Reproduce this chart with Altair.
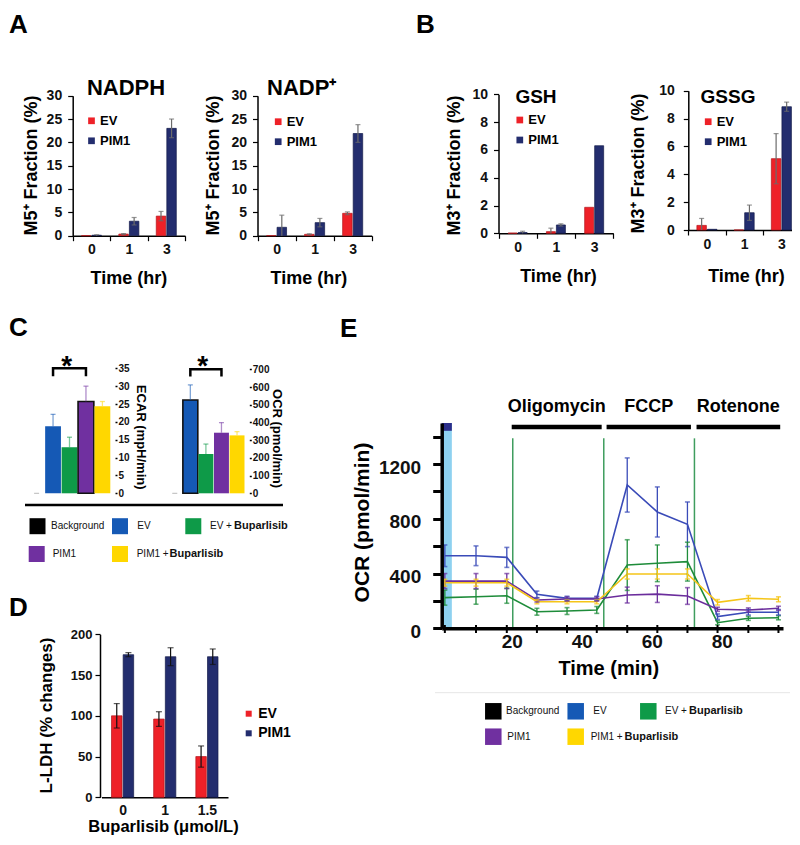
import altair as alt
import pandas as pd

# ======================= data =======================
TIME_HR = ["0", "1", "3"]
SERIES = ["EV", "PIM1"]

NADPH_EV = [0.0, 0.35, 4.2]
NADPH_EV_ERR = [0.0, 0.1, 1.0]
NADPH_PIM1 = [0.1, 3.1, 23.0]
NADPH_PIM1_ERR = [0.1, 0.8, 2.0]

NADP_EV = [0.0, 0.3, 4.8]
NADP_EV_ERR = [0.0, 0.1, 0.3]
NADP_PIM1 = [1.8, 2.8, 21.9]
NADP_PIM1_ERR = [2.6, 0.9, 1.9]

GSH_EV = [0.02, 0.12, 1.87]
GSH_EV_ERR = [0.0, 0.25, 0.0]
GSH_PIM1 = [0.05, 0.6, 6.3]
GSH_PIM1_ERR = [0.1, 0.08, 0.0]

GSSG_EV = [0.33, 0.0, 5.12]
GSSG_EV_ERR = [0.5, 0.0, 1.8]
GSSG_PIM1 = [0.05, 1.24, 8.85]
GSSG_PIM1_ERR = [0.0, 0.55, 0.33]

C_GROUPS = ["Background", "EV", "EV +Buparlisib", "PIM1", "PIM1 +Buparlisib"]
ECAR = [0.0, 18.8, 12.9, 25.7, 24.4]
ECAR_ERR = [0.0, 3.3, 2.8, 4.3, 1.3]
OCR_BAR = [0.0, 527, 222, 342, 327]
OCR_BAR_ERR = [0.0, 85, 56, 57, 21]
ECAR_BRACKET = [32.8, 35.0]
OCR_BRACKET = [660, 700]

BUP_DOSE = ["0", "1", "1.5"]
LDH_EV = [100, 96, 50]
LDH_EV_ERR = [15, 9, 13]
LDH_PIM1 = [175, 172.5, 172.5]
LDH_PIM1_ERR = [2.5, 11, 9.5]

E_SERIES = ["EV", "EV +Buparlisib", "PIM1", "PIM1 +Buparlisib"]
E_TIME = [0.9, 9.8, 18.6, 27.2, 35.8, 44.3, 53.0, 61.6, 70.2, 78.8, 87.6, 96.2]
E_EV = [530, 530, 518, 248, 219, 219, 1047, 850, 760, 85, 117, 117]
E_EV_ERR = [79, 72, 73, 24, 15, 15, 198, 183, 163, 20, 20, 20]
E_EVB = [224, 231, 238, 121, 126, 134, 462, 475, 487, 41, 73, 77]
E_EVB_ERR = [55, 55, 55, 25, 25, 25, 185, 134, 142, 15, 15, 15]
E_PIM = [345, 345, 345, 207, 214, 214, 243, 250, 236, 139, 134, 146]
E_PIM_ERR = [55, 55, 55, 15, 15, 15, 58, 61, 61, 15, 15, 15]
E_PIMB = [333, 333, 333, 194, 194, 194, 397, 397, 397, 190, 219, 212]
E_PIMB_ERR = [25, 25, 25, 15, 15, 15, 37, 37, 37, 20, 20, 18]
INJECT_TIME = [20.3, 46.3, 72.2]
DRUGS = ["Oligomycin", "FCCP", "Rotenone"]
DRUG_START = [20.0, 47.1, 72.8]
DRUG_END = [45.7, 71.2, 96.7]
BASAL_BAND = [0.0, 2.9]

# legend labels: (plain part, bold part)
LEGEND_LABELS = [("Background", ""), ("EV", ""), ("EV +", "Buparlisib"),
                 ("PIM1", ""), ("PIM1 +", "Buparlisib")]

# ======================= styling / layout =======================
W, H = 784, 829
OFF = 8


def px(v):
    return round(v - OFF, 2)


def py(v):
    return round(v - OFF, 2)


FONT = "Liberation Sans"
LEG_FONT = "Liberation Sans"
RED, RED_EDGE = "#EE2128", "#B3151B"
NAVY, NAVY_EDGE = "#232D6E", "#141B4A"
GREY = "#6b6b6b"
C_COLORS = ["#000000", "#1559B5", "#0E9A48", "#7030A0", "#FFD700"]
E_COLORS = ["#3A4BB8", "#1E8C3A", "#6B2D9C", "#F5C518"]


def y_axis_left(axis_x, values, title, tcx, tcy, label_size=14, title_size=18, label_pad=6):
    return alt.Axis(orient="left", offset=-px(axis_x), values=values, title=title,
                    titleX=round(tcx - axis_x, 2), titleY=py(tcy), titleAngle=270,
                    titleAlign="center", titleBaseline="middle", titleFontSize=title_size,
                    labelFontSize=label_size, labelPadding=label_pad, tickSize=5,
                    tickWidth=1.2, domainWidth=1.5)


def x_axis_band(axis_y, title, tcx, tcy, label_size=14, title_size=18, label_pad=2, ticks=True):
    return alt.Axis(orient="bottom", offset=round(py(axis_y) - H, 2), title=title,
                    titleX=px(tcx), titleY=round(tcy - axis_y, 2), titleAlign="center",
                    titleBaseline="middle", titleFontSize=title_size, labelFontSize=label_size,
                    labelAngle=0, labelPadding=label_pad, tickBand="extent",
                    ticks=ticks, tickSize=5 if ticks else 0, tickWidth=1.2, domainWidth=1.5)


def series_legend(lx, ly, size=13, sym=45, row_pad=6, lab_off=2):
    return alt.Legend(orient="none", legendX=px(lx), legendY=py(ly), title=None,
                      symbolType="square", symbolSize=sym, symbolStrokeWidth=0,
                      labelFont=FONT, labelFontSize=size, labelFontWeight="bold",
                      labelColor="black", rowPadding=row_pad, labelOffset=lab_off,
                      padding=0, direction="vertical")


def text(t, x, y, size, weight="bold", align="center", baseline="middle", angle=0,
         color="black", font=FONT):
    return alt.Chart(pd.DataFrame({"t": [t]})).mark_text(
        align=align, baseline=baseline, fontSize=size, fontWeight=weight, font=font,
        color=color, angle=angle).encode(text="t:N", x=alt.value(px(x)), y=alt.value(py(y)))


def grouped_bars(cats, ev, ev_err, pim, pim_err, x0, x1, y0, y1, ymax, bar_w,
                 xaxis, yaxis, legend, err_color=GREY, cap=5):
    rows = []
    for name, vals, errs in (("EV", ev, ev_err), ("PIM1", pim, pim_err)):
        for c, v, e in zip(cats, vals, errs):
            rows.append({"cat": c, "series": name, "v": v, "e": e,
                         "lo": max(0.0, v - e), "hi": v + e})
    df = pd.DataFrame(rows)
    band = (x1 - x0) / len(cats)
    step = bar_w / 0.9
    po = max(0.0, (band / step - 1.9) / 2)
    xsc = alt.Scale(domain=cats, range=[px(x0), px(x1)], paddingInner=0, paddingOuter=0)
    osc = alt.Scale(domain=SERIES, paddingInner=0.1, paddingOuter=po)
    ysc = alt.Scale(domain=[0, ymax], range=[py(y0), py(y1)], nice=False, zero=True)
    base = alt.Chart(df)
    xo = alt.XOffset("series:N", sort=SERIES, scale=osc)
    xe = alt.X("cat:N", sort=cats, scale=xsc, axis=xaxis)
    bars = base.mark_bar(strokeWidth=0.7).encode(
        x=xe, xOffset=xo,
        y=alt.Y("v:Q", scale=ysc, axis=yaxis),
        color=alt.Color("series:N", sort=SERIES,
                        scale=alt.Scale(domain=SERIES, range=[RED, NAVY]), legend=legend),
        stroke=alt.condition("datum.series === 'EV'", alt.value(RED_EDGE), alt.value(NAVY_EDGE)),
    )
    eb = base.transform_filter("datum.e > 0")
    whisk = eb.mark_rule(color=err_color, strokeWidth=1.2).encode(
        x=xe, xOffset=xo, y=alt.Y("lo:Q", scale=ysc, axis=yaxis), y2="hi:Q")
    top = eb.mark_tick(color=err_color, thickness=1.2, size=cap, orient="horizontal").encode(
        x=xe, xOffset=xo, y=alt.Y("hi:Q", scale=ysc, axis=yaxis))
    bot = eb.transform_filter("datum.v - datum.e > 0").mark_tick(
        color=err_color, thickness=1.2, size=cap, orient="horizontal").encode(
        x=xe, xOffset=xo, y=alt.Y("lo:Q", scale=ysc, axis=yaxis))
    return alt.layer(bars, whisk, top, bot)


def c_panel(vals, errs, x0, x1, ymax, ytop, yaxis, outlined, bracket):
    df = pd.DataFrame({"grp": C_GROUPS, "v": vals, "e": errs})
    df["hi"] = df["v"] + df["e"]
    xsc = alt.Scale(domain=C_GROUPS, range=[px(x0), px(x1)], paddingInner=0.04, paddingOuter=0)
    ysc = alt.Scale(domain=[0, ymax], range=[py(493.3), py(ytop)], nice=False, zero=True)
    csc = alt.Scale(domain=C_GROUPS, range=C_COLORS)
    xn = alt.X("grp:N", sort=C_GROUPS, scale=xsc, axis=None)
    base = alt.Chart(df)
    bars = base.transform_filter("datum.v > 0").mark_bar(stroke="#111111").encode(
        x=xn, y=alt.Y("v:Q", scale=ysc, axis=yaxis),
        color=alt.Color("grp:N", scale=csc, legend=None),
        strokeWidth=alt.condition(f"datum.grp === '{outlined}'", alt.value(1.6), alt.value(0)),
    )
    eb = base.transform_filter("datum.e > 0")
    whisk = eb.mark_rule(strokeWidth=1.3, opacity=0.55).encode(
        x=xn, y=alt.Y("v:Q", scale=ysc, axis=yaxis), y2="hi:Q",
        color=alt.Color("grp:N", scale=csc, legend=None))
    cap = eb.mark_tick(thickness=1.3, size=5, orient="horizontal", opacity=0.55).encode(
        x=xn, y=alt.Y("hi:Q", scale=ysc, axis=yaxis),
        color=alt.Color("grp:N", scale=csc, legend=None))
    bg = base.transform_filter("datum.grp === 'Background'").mark_tick(
        thickness=1, size=5, orient="horizontal", color="#9a9a9a").encode(
        x=xn, y=alt.Y("v:Q", scale=ysc, axis=yaxis))
    bdf = pd.DataFrame({"grp": ["EV", "EV", "PIM1", "PIM1"],
                        "v": [bracket[0], bracket[1], bracket[1], bracket[0]],
                        "o": [0, 1, 2, 3]})
    br = alt.Chart(bdf).mark_line(color="black", strokeWidth=2.5).encode(
        x=xn, y=alt.Y("v:Q", scale=ysc, axis=yaxis), order="o:Q")
    return alt.layer(bars, whisk, cap, bg, br)


def legend_entry(label, color, cx, cy, side, lab_x, bold_x, size):
    plain, bold = label
    sq = alt.Chart(pd.DataFrame({"t": [plain]})).mark_square(
        size=side * side, color=color, opacity=1, filled=True).encode(
        x=alt.value(px(cx)), y=alt.value(py(cy)))
    out = [sq, text(plain, lab_x, cy, size, weight="normal", align="left", color="#111111",
                    font=LEG_FONT)]
    if bold:
        out.append(text(bold, bold_x, cy, size + 1, weight="bold", align="left",
                        color="#111111", font=LEG_FONT))
    return out


def e_panel():
    rows = []
    for name, vals, errs in zip(E_SERIES, [E_EV, E_EVB, E_PIM, E_PIMB],
                                [E_EV_ERR, E_EVB_ERR, E_PIM_ERR, E_PIMB_ERR]):
        for t, v, e in zip(E_TIME, vals, errs):
            rows.append({"t": t, "series": name, "v": v, "lo": v - e, "hi": v + e})
    df = pd.DataFrame(rows)
    xsc = alt.Scale(domain=[0, 97.5], range=[px(441.7), px(783)], nice=False, zero=False)
    ysc = alt.Scale(domain=[0, 1500], range=[py(628.3), py(423.0)], nice=False, zero=True)
    csc = alt.Scale(domain=E_SERIES, range=E_COLORS)
    xaxis = alt.Axis(orient="bottom", offset=round(py(628.3) - H, 2), values=[20, 40, 60, 80],
                     ticks=False, tickSize=0, labelFontSize=19, labelPadding=4, domainWidth=3.5,
                     title="Time (min)", titleX=px(608.3), titleY=40, titleFontSize=20,
                     titleAlign="center", titleBaseline="middle", labelFlush=False, zindex=1,
                     format="d")
    yaxis = alt.Axis(orient="left", offset=-px(441.7), values=list(range(0, 1401, 200)),
                     labelExpr="datum.value % 400 === 0 ? datum.label : ''", format="d",
                     tickSize=9, tickWidth=3, domainWidth=3.5, labelFontSize=19, labelPadding=12,
                     labelOffset=3, title="OCR (pmol/min)", titleX=round(362 - 441.7, 2),
                     titleY=py(522), titleAngle=270, titleFontSize=21, titleAlign="center",
                     titleBaseline="middle", zindex=1)

    def X_(f):
        return alt.X(f, scale=xsc, axis=xaxis)

    def Y_(f):
        return alt.Y(f, scale=ysc, axis=yaxis)

    band = alt.Chart(pd.DataFrame({"t0": [BASAL_BAND[0]], "t1": [BASAL_BAND[1]],
                                   "y0": [0], "y1": [1500]})).mark_rect(color="#8ED1F0").encode(
        x=X_("t0:Q"), x2="t1:Q", y=Y_("y0:Q"), y2="y1:Q")
    box = alt.Chart(pd.DataFrame({"t0": [BASAL_BAND[0]], "t1": [BASAL_BAND[1]],
                                  "y0": [1443], "y1": [1500]})).mark_rect(color="#2B2E8A").encode(
        x=X_("t0:Q"), x2="t1:Q", y=Y_("y0:Q"), y2="y1:Q")
    inj = alt.Chart(pd.DataFrame({"t": INJECT_TIME, "y0": [0] * 3, "y1": [1388] * 3})).mark_rule(
        color="#3F9D5E", strokeWidth=1.5).encode(x=X_("t:Q"), y=Y_("y0:Q"), y2="y1:Q")
    ddf = pd.DataFrame({"drug": DRUGS, "s": DRUG_START, "e": DRUG_END, "lvl": [1470] * 3})
    ddf["mid"] = (ddf["s"] + ddf["e"]) / 2
    dbar = alt.Chart(ddf).mark_rule(color="black", strokeWidth=4.5).encode(
        x=X_("s:Q"), x2="e:Q", y=Y_("lvl:Q"))
    dlab = alt.Chart(ddf).mark_text(font=FONT, fontSize=18, fontWeight="bold", color="black",
                                    baseline="middle").encode(
        x=X_("mid:Q"), y=alt.value(py(407)), text="drug:N")
    base = alt.Chart(df)
    lines = base.mark_line(strokeWidth=1.6).encode(
        x=X_("t:Q"), y=Y_("v:Q"), color=alt.Color("series:N", scale=csc, legend=None))
    whisk = base.mark_rule(strokeWidth=1.3).encode(
        x=X_("t:Q"), y=Y_("lo:Q"), y2="hi:Q",
        color=alt.Color("series:N", scale=csc, legend=None))
    cap_hi = base.mark_tick(orient="horizontal", size=5, thickness=1.6).encode(
        x=X_("t:Q"), y=Y_("hi:Q"), color=alt.Color("series:N", scale=csc, legend=None))
    cap_lo = base.mark_tick(orient="horizontal", size=5, thickness=1.6).encode(
        x=X_("t:Q"), y=Y_("lo:Q"), color=alt.Color("series:N", scale=csc, legend=None))
    xt = alt.Chart(pd.DataFrame({"t": E_TIME})).mark_rule(color="black", strokeWidth=2).encode(
        x=X_("t:Q"), y=alt.value(py(625)), y2=alt.value(py(633)))
    return alt.layer(band, box, inj, dbar, dlab, lines, whisk, cap_hi, cap_lo, xt)


layers = []

# ---------------- panel A ----------------
layers.append(grouped_bars(
    TIME_HR, NADPH_EV, NADPH_EV_ERR, NADPH_PIM1, NADPH_PIM1_ERR,
    72.7, 185, 235.7, 95.7, 30, 9.5,
    x_axis_band(235.7, "Time (hr)", 128.3, 278.3),
    y_axis_left(72.7, list(range(0, 31, 5)), "M5⁺ Fraction (%)", 31.7, 165),
    series_legend(85, 114.3)))
layers.append(grouped_bars(
    TIME_HR, NADP_EV, NADP_EV_ERR, NADP_PIM1, NADP_PIM1_ERR,
    257.5, 371.7, 235.7, 95.7, 30, 9.5,
    x_axis_band(235.7, "Time (hr)", 308.3, 278.3),
    y_axis_left(257.5, list(range(0, 31, 5)), "M5⁺ Fraction (%)", 213.3, 165),
    series_legend(271.7, 115.2)))

# ---------------- panel B ----------------
layers.append(grouped_bars(
    TIME_HR, GSH_EV, GSH_EV_ERR, GSH_PIM1, GSH_PIM1_ERR,
    498.5, 613.3, 233.3, 94.3, 10, 9,
    x_axis_band(233.3, "Time (hr)", 558, 276),
    y_axis_left(498.5, list(range(0, 11, 2)), "M3⁺ Fraction (%)", 454, 165),
    series_legend(513.3, 113.5)))
layers.append(grouped_bars(
    TIME_HR, GSSG_EV, GSSG_EV_ERR, GSSG_PIM1, GSSG_PIM1_ERR,
    688.3, 800, 230, 90.7, 10, 9.5,
    x_axis_band(230, "Time (hr)", 746, 276),
    y_axis_left(688.3, list(range(0, 11, 2)), "M3⁺ Fraction (%)", 638, 163, label_pad=9),
    series_legend(701.7, 115.2)))

# ---------------- panel C ----------------
layers.append(c_panel(
    ECAR, ECAR_ERR, 28.7, 110.3, 35, 368.3,
    alt.Axis(orient="right", offset=round(px(115) - W, 2), values=list(range(0, 36, 5)),
             domain=False, tickSize=2, tickWidth=1.5, labelPadding=1, labelFontSize=10,
             title="ECAR (mpH/min)", titleX=25, titleY=py(436.7), titleAngle=90,
             titleAlign="center", titleBaseline="middle", titleFontSize=13),
    "PIM1", ECAR_BRACKET))
layers.append(c_panel(
    OCR_BAR, OCR_BAR_ERR, 167.3, 244.5, 700, 369.3,
    alt.Axis(orient="right", offset=round(px(249.3) - W, 2), values=list(range(0, 701, 100)),
             domain=False, tickSize=2, tickWidth=1.5, labelPadding=1, labelFontSize=10,
             title="OCR (pmol/min)", titleX=27.4, titleY=py(438), titleAngle=90,
             titleAlign="center", titleBaseline="middle", titleFontSize=13),
    "EV", OCR_BRACKET))

# ---------------- panel D ----------------
layers.append(grouped_bars(
    BUP_DOSE, LDH_EV, LDH_EV_ERR, LDH_PIM1, LDH_PIM1_ERR,
    101.5, 228, 797.3, 634.3, 200, 10.5,
    x_axis_band(797.3, "Buparlisib (μmol/L)", 163, 826.5, label_size=14, title_size=16.5,
                label_pad=6, ticks=False),
    y_axis_left(100, list(range(0, 201, 50)), "L-LDH (% changes)", 46.7, 715,
                label_size=13, title_size=17, label_pad=3),
    series_legend(241.7, 706.7, size=14, sym=36, row_pad=5.6, lab_off=2.5),
    err_color="#111111", cap=6))

# ---------------- panel E ----------------
layers.append(e_panel())

# ---------------- annotations ----------------
layers += [
    text("A", 9, 12, 26, align="left", baseline="top"),
    text("B", 416, 12, 26, align="left", baseline="top"),
    text("C", 9, 315, 26, align="left", baseline="top"),
    text("D", 9, 595, 26, align="left", baseline="top"),
    text("E", 340, 316, 26, align="left", baseline="top"),
    text("NADPH", 126, 88, 22),
    text("NADP⁺", 301.7, 88, 22),
    text("GSH", 536, 96.5, 19),
    text("GSSG", 728, 96.7, 19),
    text("*", 66.7, 375, 28, baseline="alphabetic"),
    text("*", 202.7, 375, 28, baseline="alphabetic"),
    alt.Chart(pd.DataFrame({"k": [0]})).mark_rule(color="black", strokeWidth=2.5).encode(
        x=alt.value(px(25)), x2=alt.value(px(283)), y=alt.value(py(505))),
    alt.Chart(pd.DataFrame({"k": [0]})).mark_rule(color="#e6e6e6", strokeWidth=1).encode(
        x=alt.value(px(435)), x2=alt.value(px(790)), y=alt.value(py(692.7))),
]

# manual legends of panels C and E: (square centre x, centre y, label x, bold-part x)
C_LEG_POS = [(37.5, 526.2, 51, 0), (120, 526.2, 137.3, 0), (193.3, 526.2, 210, 234),
             (36.7, 554, 52.7, 0), (120, 554, 136.7, 169.5)]
E_LEG_POS = [(493.3, 711.3, 506, 0), (575.7, 711.3, 593.3, 0), (648.3, 711.3, 665, 689),
             (493.3, 736.7, 507.3, 0), (575.7, 736.7, 590.7, 624.5)]
for lab, col, (cx, cy, lx, bx) in zip(LEGEND_LABELS, C_COLORS, C_LEG_POS):
    layers += legend_entry(lab, col, cx, cy, 16, lx, bx, 10)
for lab, col, (cx, cy, lx, bx) in zip(LEGEND_LABELS, C_COLORS, E_LEG_POS):
    layers += legend_entry(lab, col, cx, cy, 16.5, lx, bx, 10)

chart = alt.layer(*layers).properties(
    width=W, height=H, padding=0, autosize=alt.AutoSizeParams(type="none")
).resolve_scale(
    x="independent", y="independent", color="independent", xOffset="independent"
).resolve_axis(
    x="independent", y="independent"
).resolve_legend(
    color="independent"
).configure_view(
    strokeWidth=0
).configure_axis(
    grid=False, domainColor="black", tickColor="black", labelColor="#111111",
    labelFont=FONT, titleFont=FONT, labelFontWeight="bold", titleFontWeight="bold",
    titleColor="black"
)

chart.save("out.html", embed_options={"renderer": "svg", "actions": False})
